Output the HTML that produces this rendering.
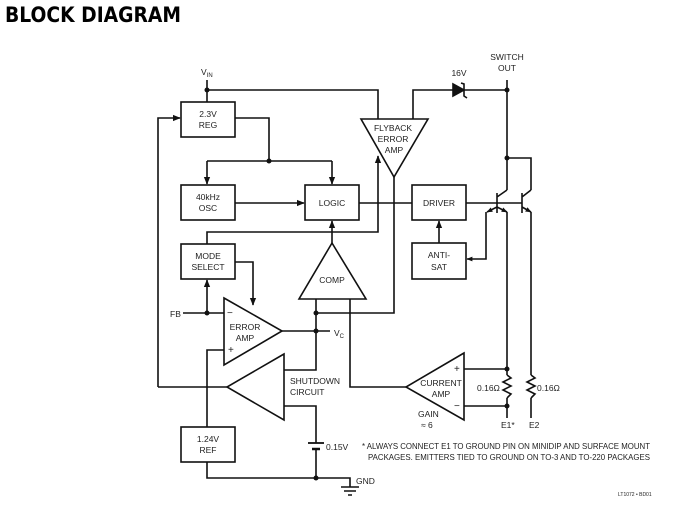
<!DOCTYPE html>
<html><head><meta charset="utf-8"><style>
html,body{margin:0;padding:0;background:#fff;}
svg{display:block;}
text{font-family:"Liberation Sans",sans-serif;fill:#222;}
</style></head><body>
<svg width="673" height="506" viewBox="0 0 673 506" xmlns="http://www.w3.org/2000/svg">
<defs>
<marker id="a" viewBox="0 0 10 10" refX="9" refY="5" markerWidth="8" markerHeight="8" markerUnits="userSpaceOnUse" orient="auto-start-reverse"><path d="M0,1 L10,5 L0,9 z" fill="#111"/></marker>
<marker id="s" viewBox="0 0 10 10" refX="9" refY="5" markerWidth="6" markerHeight="6" markerUnits="userSpaceOnUse" orient="auto"><path d="M0,1 L10,5 L0,9 z" fill="#111"/></marker>
</defs>
<text x="5" y="22" style="font-size:21px;font-weight:bold;font-family:'DejaVu Sans','Liberation Sans',sans-serif;fill:#000" textLength="176" lengthAdjust="spacingAndGlyphs">BLOCK DIAGRAM</text>
<g stroke="#111" stroke-width="1.6" fill="none">
<rect x="181" y="102" width="54" height="35"/>
<rect x="181" y="185" width="54" height="35"/>
<rect x="305" y="185" width="54" height="35"/>
<rect x="181" y="244" width="54" height="35"/>
<rect x="181" y="427" width="54" height="35"/>
<rect x="412" y="185" width="54" height="35"/>
<rect x="412" y="243" width="54" height="36"/>
<path d="M361,119 L428,119 L394,177 Z"/>
<path d="M332,243 L366,299 L299,299 Z"/>
<path d="M224,298 L282,331 L224,365 Z"/>
<path d="M284,354 L227,387 L284,420 Z"/>
<path d="M464,353 L406,387 L464,420 Z"/>
<path d="M207,80 V102 M207,90 H378 V119"/>
<path d="M235,118 H269 V161 M207,161 H332"/>
<path d="M207,161 V184" marker-end="url(#a)"/>
<path d="M332,161 V184" marker-end="url(#a)"/>
<path d="M158,387 V118 H180" marker-end="url(#a)"/>
<path d="M235,203 H304" marker-end="url(#a)"/>
<path d="M207,244 V232 H378 V156" marker-end="url(#a)"/>
<path d="M332,243 V221" marker-end="url(#a)"/>
<path d="M359,203 H412 M466,203 H522"/>
<path d="M439,243 V221" marker-end="url(#a)"/>
<path d="M413,119 V90 H453 M464,90 H507 V158 H531 V190 M507,80 V190"/>
<path d="M453,84 L464,90 L453,96 Z" fill="#111"/>
<path d="M461,83 L464,84 V96 L467,98"/>
<path d="M497,193 V213 M497,197 L507,190 M522,193 V213 M522,197 L531,190"/>
<path d="M497,207 L507,212" marker-end="url(#s)"/>
<path d="M497,207 L487,212" marker-end="url(#s)"/>
<path d="M522,207 L531,212" marker-end="url(#s)"/>
<path d="M507,212 V375 M507,398 V418 M531,212 V375 M531,398 V418"/>
<path d="M486,212 V259 H467" marker-end="url(#s)"/>
<path d="M507,375 L511,378 L503,382 L511,386 L503,390 L511,394 L507,398"/>
<path d="M531,375 L535,378 L527,382 L535,386 L527,390 L535,394 L531,398"/>
<path d="M464,369 H507 M464,406 H507"/>
<path d="M394,177 V313 H316"/>
<path d="M316,299 V370 H284 M350,299 V387 H406"/>
<path d="M282,331 H330"/>
<path d="M183,313 H224"/>
<path d="M207,313 V280" marker-end="url(#a)"/>
<path d="M235,262 H253 V305" marker-end="url(#a)"/>
<path d="M224,350 H207 V427"/>
<path d="M158,387 H227"/>
<path d="M284,406 H316 V443 M316,449 V478 M207,462 V478 H350 V487"/>
<path d="M308,443 H324" stroke-width="1.8"/>
<path d="M312,449 H320" stroke-width="2.5"/>
<path d="M341,487 H359 M344,491 H356 M348,495 H352"/>
</g>
<g fill="#111">
<circle cx="207" cy="90" r="2.5"/><circle cx="269" cy="161" r="2.5"/>
<circle cx="507" cy="90" r="2.5"/><circle cx="507" cy="158" r="2.5"/>
<circle cx="207" cy="313" r="2.5"/><circle cx="316" cy="313" r="2.5"/>
<circle cx="316" cy="331" r="2.5"/><circle cx="316" cy="478" r="2.5"/>
<circle cx="507" cy="369" r="2.5"/><circle cx="507" cy="406" r="2.5"/>
</g>
<g style="font-size:8.5px" text-anchor="middle">
<text x="208" y="117">2.3V</text><text x="208" y="128">REG</text>
<text x="208" y="200">40kHz</text><text x="208" y="211">OSC</text>
<text x="332" y="206">LOGIC</text>
<text x="208" y="259">MODE</text><text x="208" y="270">SELECT</text>
<text x="208" y="442">1.24V</text><text x="208" y="453">REF</text>
<text x="439" y="206">DRIVER</text>
<text x="439" y="258">ANTI-</text><text x="439" y="270">SAT</text>
<text x="393" y="131">FLYBACK</text><text x="393" y="142">ERROR</text><text x="394" y="153">AMP</text>
<text x="332" y="283">COMP</text>
<text x="245" y="330">ERROR</text><text x="245" y="341">AMP</text>
<text x="441" y="386">CURRENT</text><text x="441" y="397">AMP</text>
<text x="507" y="60">SWITCH</text><text x="507" y="71">OUT</text>
<text x="459" y="76">16V</text>
</g>
<g style="font-size:8.5px">
<text x="201" y="75">V<tspan style="font-size:6px" dy="2">IN</tspan></text>
<text x="170" y="317">FB</text>
<text x="334" y="336">V<tspan style="font-size:6px" dy="2">C</tspan></text>
<text x="290" y="384">SHUTDOWN</text><text x="290" y="395">CIRCUIT</text>
<text x="326" y="450">0.15V</text>
<text x="356" y="484">GND</text>
<text x="477" y="391">0.16Ω</text>
<text x="537" y="391">0.16Ω</text>
<text x="501" y="428">E1*</text>
<text x="529" y="428">E2</text>
<text x="418" y="417">GAIN</text>
<text x="421" y="428">≈ 6</text>
<text x="227" y="316" style="font-size:10px">−</text>
<text x="228" y="353" style="font-size:10px">+</text>
<text x="454" y="372" style="font-size:10px">+</text>
<text x="454" y="409" style="font-size:10px">−</text>
<text x="362" y="449" textLength="288" lengthAdjust="spacingAndGlyphs">* ALWAYS CONNECT E1 TO GROUND PIN ON MINIDIP AND SURFACE MOUNT</text>
<text x="368" y="460" textLength="282" lengthAdjust="spacingAndGlyphs">PACKAGES. EMITTERS TIED TO GROUND ON TO-3 AND TO-220 PACKAGES</text>
<text x="618" y="496" style="font-size:5px">LT1072 • BD01</text>
</g>
</svg>
</body></html>
